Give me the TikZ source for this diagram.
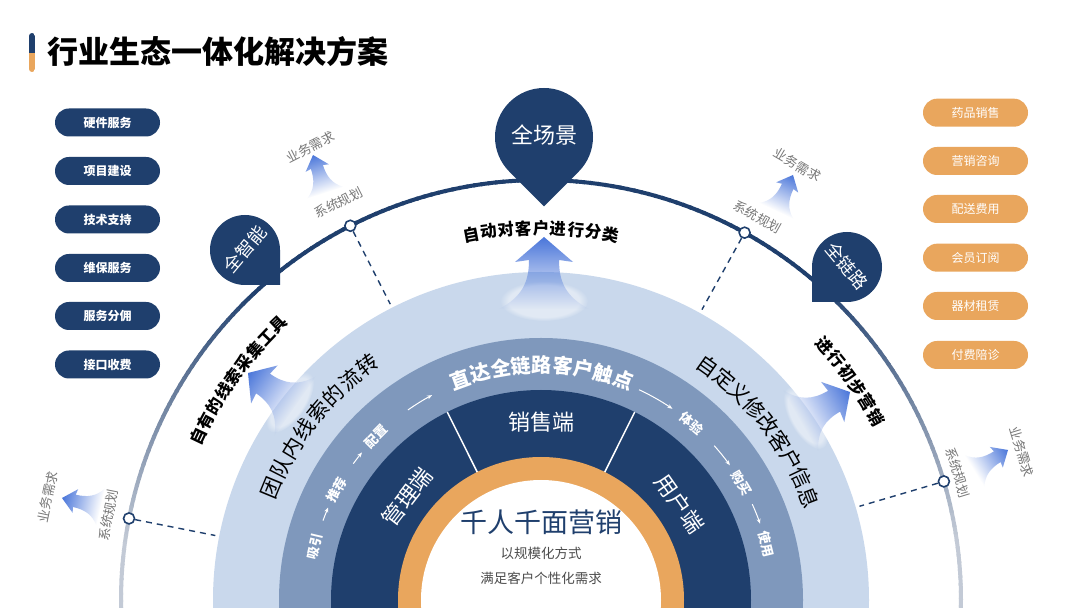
\documentclass[tikz,border=0pt]{standalone}
\usepackage{fontspec}
\setmainfont{Noto Sans CJK SC}
\usetikzlibrary{arrows.meta,fadings}

\definecolor{darkblue}{HTML}{1F3F6D}
\definecolor{midblue}{HTML}{7F98BC}
\definecolor{lightblue}{HTML}{C9D8EC}
\definecolor{ringorange}{HTML}{E9A65D}
\definecolor{arrowblue}{HTML}{4A76DA}
\definecolor{arcgray}{HTML}{C3CAD6}
\definecolor{labelgray}{HTML}{777777}

\tikzfading[name=fadedown, top color=transparent!0, middle color=transparent!35, bottom color=transparent!100]

% 沿圆弧逐字排列
\newcommand{\arcwords}[6]{% #1 名称 #2 半径 #3 起始角 #4 角步长 #5 样式 #6 文字
  \foreach \ch [count=\i] in {#6} {
    \pgfmathsetmacro{\ang}{#3-(\i-1)*#4}
    \node[#5, rotate=\ang-90] (#1-\i) at (\ang:#2) {\ch};
  }}

% 定位针
\newcommand{\pinmark}[3]{% #1 圆心 #2 半径 #3 旋转
  \fill[darkblue, shift={#1}, rotate=#3] (-45:#2) arc (-45:225:#2) -- (0,-1.4142*#2) -- cycle;}

% 渐变箭头
\newcommand{\glowarrow}[4]{% #1 箭尖 #2 旋转 #3 横向缩放 #4 纵向缩放
  \begin{scope}[transform canvas={shift={#1}, rotate=#2, xscale=#3, yscale=#4}]
    \fill[white, opacity=.45, path fading=circle with fuzzy edge 20 percent] (0,-64) ellipse (44 and 20);
    \fill[arrowblue, path fading=fadedown]
      (0,0) -- (29,-25) -- (15,-23) .. controls (15,-45) and (22,-60) .. (45,-72)
      -- (-45,-72) .. controls (-22,-60) and (-15,-45) .. (-15,-23) -- (-29,-25) -- cycle;
  \end{scope}}

\begin{document}
\begin{tikzpicture}[x=1pt, y=1pt,
    leftbtn/.style={fill=darkblue, rounded corners=14, minimum width=105, minimum height=28, text=white, font=\fontsize{12}{12}\selectfont\bfseries},
    rightbtn/.style={fill=ringorange, rounded corners=14, minimum width=105, minimum height=28, text=white, font=\fontsize{12}{12}\selectfont},
    pintext/.style={text=white, font=\fontsize{#1}{#1}\selectfont},
    sidelabel/.style={text=labelgray, font=\fontsize{13}{13}\selectfont, inner sep=1},
    dotmark/.style={circle, draw=darkblue, fill=white, line width=1.6, inner sep=0, minimum size=11},
    dashline/.style={darkblue, line width=1.4, dash pattern=on 6pt off 5pt},
    midword/.style={text=white, font=\fontsize{20}{20}\selectfont\bfseries, inner sep=0},
    stepword/.style={text=white, font=\fontsize{13}{13}\selectfont\bfseries, inner sep=0},
    flowarrow/.style={white, line width=1, -{Stealth[length=5pt, width=4pt]}},
    bandword/.style={text=black, font=\fontsize{21}{21}\selectfont, inner sep=0},
    outword/.style={text=black, font=\fontsize{16.5}{16.5}\selectfont\bfseries, inner sep=0},
    endword/.style={text=white, font=\fontsize{22}{22}\selectfont}]

% 背景
\fill[white] (0,0) rectangle (1080,608);
\useasboundingbox (0,0) rectangle (1080,608);
\clip (0,0) rectangle (1080,608);

% 标题
\begin{scope}
  \clip[rounded corners=3] (29,536) rectangle (35,575);
  \fill[darkblue] (29,555) rectangle (35,575);
  \fill[ringorange] (29,536) rectangle (35,555);
\end{scope}
\node[anchor=west, inner sep=0, font=\fontsize{31}{31}\selectfont\bfseries] (title) at (47,556) {行业生态一体化解决方案};

% 左侧按钮
\node[leftbtn] (hw) at (107.5,485.5) {硬件服务};
\node[leftbtn] (proj) at (107.5,437) {项目建设};
\node[leftbtn] (tech) at (107.5,388.5) {技术支持};
\node[leftbtn] (maint) at (107.5,340) {维保服务};
\node[leftbtn] (share) at (107.5,292) {服务分佣};
\node[leftbtn] (api) at (107.5,243.5) {接口收费};

% 右侧按钮
\node[rightbtn] (drug) at (975.5,495.3) {药品销售};
\node[rightbtn] (consult) at (975.5,447) {营销咨询};
\node[rightbtn] (deliver) at (975.5,399) {配送费用};
\node[rightbtn] (member) at (975.5,350.3) {会员订阅};
\node[rightbtn] (rent) at (975.5,302) {器材租赁};
\node[rightbtn] (escort) at (975.5,253) {付费陪诊};

\begin{scope}[shift={(541,8)}]
  % 同心圆环
  \fill[lightblue] (0,0) circle (328);
  \fill[midblue] (0,0) circle (262);
  \fill[darkblue] (0,0) circle (210);
  \fill[ringorange] (0,0) circle (143);
  \fill[white] (0,0) circle (120);

  % 分隔线
  \draw[white, line width=1.5] (116.5:143) -- (116.5:210);
  \draw[white, line width=1.5] (63.5:143) -- (63.5:210);

  % 外圈弧线
  \foreach \a in {-4,-3,...,183} {
    \pgfmathsetmacro{\mix}{max(0,min(100,(min(\a,180-\a)-8)*2.5))}
    \draw[line width=4, darkblue!\mix!arcgray] (\a:420) arc (\a:\a+1.3:420);
  }

  % 弧线上的点与虚线
  \node[dotmark] (dotA) at (117:420) {};
  \node[dotmark] (dotB) at (61:420) {};
  \node[dotmark] (dotC) at (168.8:420) {};
  \node[dotmark] (dotD) at (16.4:420) {};
  \coordinate (inA) at (117:332);
  \coordinate (inB) at (61:332);
  \coordinate (inC) at (168.8:332);
  \coordinate (inD) at (16.4:332);
  \draw[dashline] (dotA) -- (inA);
  \draw[dashline] (dotB) -- (inB);
  \draw[dashline] (dotC) -- (inC);
  \draw[dashline] (dotD) -- (inD);
\end{scope}

% 渐变箭头
\glowarrow{(544,371)}{0}{1}{1}
\glowarrow{(248,235)}{55}{.8}{.8}
\glowarrow{(850,216)}{-60}{.8}{.8}
\glowarrow{(313,453)}{18}{.42}{.55}
\glowarrow{(793,433)}{-25}{.42}{.55}
\glowarrow{(62,110)}{77}{.42}{.55}
\glowarrow{(1008,158)}{-58}{.42}{.55}

% 定位针
\pinmark{(544,471)}{49}{0}
\pinmark{(245,358)}{35}{45}
\pinmark{(847,341)}{35}{-45}
\node[pintext=22] (scene) at (544,473) {全场景};
\node[pintext=18, rotate=50] (smart) at (245,359) {全智能};
\node[pintext=18, rotate=-50] (chain) at (847,342) {全链路};

\begin{scope}[shift={(541,8)}]
  % 系统规划 / 业务需求
  \node[sidelabel, rotate=27] (sysA) at (117:446) {系统规划};
  \node[sidelabel, rotate=27] (needA) at (117:508) {业务需求};
  \node[sidelabel, rotate=-29.5] (sysB) at (60.5:440) {系统规划};
  \node[sidelabel, rotate=-30.5] (needB) at (59.5:505) {业务需求};
  \node[sidelabel, rotate=78.9] (sysC) at (168.9:441) {系统规划};
  \node[sidelabel, rotate=78.2] (needC) at (168.2:504) {业务需求};
  \node[sidelabel, rotate=-73] (sysD) at (17:436) {系统规划};
  \node[sidelabel, rotate=-73] (needD) at (17.1:503) {业务需求};

  % 外圈文字
  \arcwords{auto}{372}{100.8}{2.7}{outword}{自,动,对,客,户,进,行,分,类}
  \arcwords{tool}{380}{154.5}{2.61}{outword}{自,有,的,线,索,采,集,工,具}
  \arcwords{mkt}{381}{41.9}{2.68}{outword}{进,行,初,步,营,销}

  % 浅色环文字
  \arcwords{team}{292}{157.5}{4.43}{bandword}{团,队,内,线,索,的,流,转}
  \arcwords{custom}{287}{54.5}{4.19}{bandword}{自,定,义,修,改,客,户,信,息}

  % 中间环文字与流程
  \arcwords{reach}{235}{110}{5.06}{midword}{直,达,全,链,路,客,户,触,点}
  \node[stepword, rotate=76.7] (attract) at (166.7:232) {吸引};
  \node[stepword, rotate=61.7] (recommend) at (151.7:232) {推荐};
  \node[stepword, rotate=45.2] (config) at (135.2:232) {配置};
  \node[stepword, rotate=-40.5] (try) at (49.5:232) {体验};
  \node[stepword, rotate=-59.8] (buy) at (30.2:232) {购买};
  \node[stepword, rotate=-76.1] (use) at (13.9:232) {使用};
  \draw[flowarrow] (160:232) arc (160:156.5:232);
  \draw[flowarrow] (144:232) arc (144:140.5:232);
  \draw[flowarrow] (125:232) arc (125:118:232);
  \draw[flowarrow] (65:232) arc (65:55.5:232);
  \draw[flowarrow] (41.7:232) arc (41.7:35.5:232);
  \draw[flowarrow] (24.4:232) arc (24.4:19.2:232);

  % 深色环文字
  \node[endword] (sales) at (90:178) {销售端};
  \node[endword, rotate=52.4] (admin) at (142.4:169) {管理端};
  \node[endword, rotate=-55.1] (user) at (34.9:169) {用户端};

  % 中心文字
  \node[text=darkblue, font=\fontsize{27}{27}\selectfont] (core) at (0,78) {千人千面营销};
  \node[text=black!70, font=\fontsize{13.5}{13.5}\selectfont] (scale) at (0,47) {以规模化方式};
  \node[text=black!70, font=\fontsize{13.5}{13.5}\selectfont] (meet) at (0,22) {满足客户个性化需求};
\end{scope}
\end{tikzpicture}
\end{document}
